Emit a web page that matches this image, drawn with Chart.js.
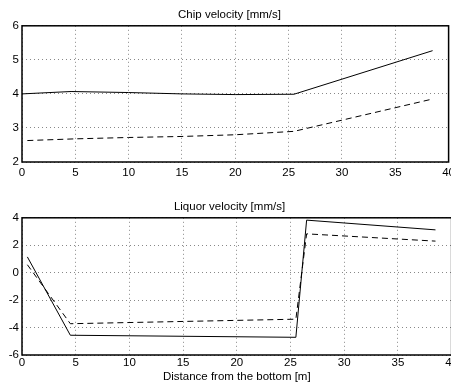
<!DOCTYPE html>
<html>
<head>
<meta charset="utf-8">
<script src="https://cdn.jsdelivr.net/npm/chart.js@4"></script>
<style>
  html, body { margin: 0; padding: 0; background: #fff; overflow: hidden; }
  .wrap { position: absolute; left: 0; width: 459px; }
  #top { top: 0; height: 190px; }
  #bottom { top: 190px; height: 194px; }
</style>
</head>
<body>
<div class="wrap" id="top"><canvas id="chipChart"></canvas></div>
<div class="wrap" id="bottom"><canvas id="liquorChart"></canvas></div>
<script>
// chip velocity [mm/s]
const chipSolidX = [0, 4.6, 10, 15, 20, 25.5, 38.5];
const chipSolidY = [4.0, 4.07, 4.04, 4.0, 3.98, 3.99, 5.27];
const chipDashX = [0.5, 5, 10, 15, 20, 25.5, 38.5];
const chipDashY = [2.63, 2.68, 2.72, 2.75, 2.8, 2.9, 3.85];

// liquor velocity [mm/s]
const liqSolidX = [0.5, 4.5, 25.5, 26.5, 38.5];
const liqSolidY = [1.15, -4.56, -4.71, 3.83, 3.12];
const liqDashX = [0.5, 4.5, 25.5, 26.5, 38.5];
const liqDashY = [0.58, -3.72, -3.39, 2.83, 2.3];

const xTicks = [0, 5, 10, 15, 20, 25, 30, 35, 40];

const font = { family: 'Liberation Sans, Arial, sans-serif', size: 11.5, weight: 'normal' };
Chart.defaults.font = font;
Chart.defaults.color = '#000';

const boxPlugin = {
  id: 'box',
  afterDraw(chart) {
    const a = chart.chartArea, ctx = chart.ctx;
    ctx.save();
    ctx.strokeStyle = '#000';
    ctx.lineWidth = 1.5;
    ctx.strokeRect(a.left, a.top, a.right - a.left, a.bottom - a.top);
    ctx.restore();
  }
};

function pts(xs, ys) {
  return xs.map((x, i) => ({ x: x, y: ys[i] }));
}

function makeChart(id, title, solid, dashed, yMin, yMax, yStep, xTitle, xHeight, titlePad, tickPad) {
  const ctx = document.getElementById(id).getContext('2d');
  return new Chart(ctx, {
    type: 'line',
    data: {
      datasets: [
        { data: solid, borderColor: '#000', borderWidth: 1, pointRadius: 0, tension: 0 },
        { data: dashed, borderColor: '#000', borderWidth: 1, borderDash: [6, 4], pointRadius: 0, tension: 0 }
      ]
    },
    plugins: [boxPlugin],
    options: {
      responsive: true,
      maintainAspectRatio: false,
      animation: false,
      layout: { padding: { left: 0, right: 0, top: 0, bottom: 0 } },
      plugins: {
        legend: { display: false },
        tooltip: { enabled: false },
        title: { display: true, text: title, font: font, color: '#000', padding: titlePad }
      },
      scales: {
        x: {
          type: 'linear',
          min: 0, max: 40,
          afterBuildTicks: s => { s.ticks = xTicks.map(v => ({ value: v })); },
          ticks: { padding: tickPad, maxRotation: 0 },
          grid: { color: '#888', tickLength: 0 },
          border: { dash: [1, 3], display: false },
          title: { display: !!xTitle, text: xTitle, padding: 0 },
          afterFit: s => { s.height = xHeight; }
        },
        y: {
          min: yMin, max: yMax,
          ticks: { stepSize: yStep, padding: 3 },
          grid: { color: '#888', tickLength: 0 },
          border: { dash: [1, 3], display: false },
          afterFit: s => { s.width = 22; }
        }
      }
    }
  });
}

makeChart('chipChart', 'Chip velocity [mm/s]', pts(chipSolidX, chipSolidY), pts(chipDashX, chipDashY), 2, 6, 1, '', 28, { top: 8, bottom: 4 }, 4);
makeChart('liquorChart', 'Liquor velocity [mm/s]', pts(liqSolidX, liqSolidY), pts(liqDashX, liqDashY), -6, 4, 2, 'Distance from the bottom [m]', 29, { top: 10, bottom: 4 }, 1);
</script>
</body>
</html>
